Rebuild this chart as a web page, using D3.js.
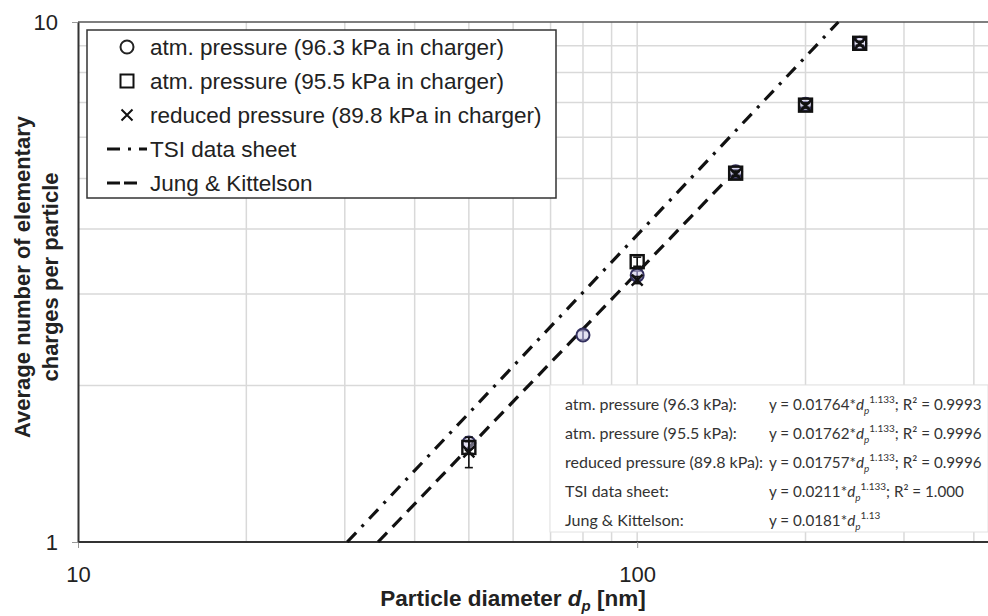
<!DOCTYPE html>
<html>
<head>
<meta charset="utf-8">
<script src="https://cdn.jsdelivr.net/npm/d3@7/dist/d3.min.js"></script>
<style>
  body { margin: 0; background: #fff; }
  svg { display: block; font-family: "Liberation Sans", Arial, sans-serif; }
</style>
</head>
<body>
<div class="chart"></div>
<script>
// measured charge per particle (diameter in nm, mean charges, error bar)
const diam963 = [50, 80, 100, 150, 200, 250];
const charge963 = [1.55, 2.50, 3.26, 5.15, 6.95, 9.10];
const err963 = [0.04, 0.05, 0.06, 0.05, 0.07, 0.08];

const diam955 = [50, 100, 150, 200, 250];
const charge955 = [1.52, 3.46, 5.12, 6.92, 9.10];
const err955 = [0.04, 0.07, 0.05, 0.07, 0.08];

const diam898 = [50, 100, 150, 200, 250];
const charge898 = [1.49, 3.19, 5.10, 6.90, 9.08];
const err898 = [0.10, 0.05, 0.05, 0.07, 0.08];

// end points of the two correlations
const tsiLine = [[30.3, 1], [229, 10]];
const jkLine = [[34.4, 1], [142.6, 4.9]];

const legendLabels = [
  "atm. pressure (96.3 kPa in charger)",
  "atm. pressure (95.5 kPa in charger)",
  "reduced pressure (89.8 kPa in charger)",
  "TSI data sheet",
  "Jung & Kittelson"
];

const eqNames = [
  "atm. pressure (96.3 kPa):",
  "atm. pressure (95.5 kPa):",
  "reduced pressure (89.8 kPa):",
  "TSI data sheet:",
  "Jung & Kittelson:"
];
const eqCoef = ["0.01764", "0.01762", "0.01757", "0.0211", "0.0181"];
const eqExp = ["1.133", "1.133", "1.133", "1.133", "1.13"];
const eqR2 = ["0.9993", "0.9996", "0.9996", "1.000", null];

const xTicks = [10, 100];
const yTicks = [1, 10];
const xGrid = [20, 30, 40, 50, 60, 70, 80, 90, 100, 200, 300, 400];
const yGrid = [2, 3, 4, 5, 6, 7, 8, 9];

const width = 988, height = 616;
const margin = {top: 22, right: 0, bottom: 74, left: 78};

const svg = d3.select('.chart').append('svg')
  .attr('width', width).attr('height', height);

const x = d3.scaleLog().domain([10, 424]).range([margin.left, width - margin.right]);
const y = d3.scaleLog().domain([1, 10]).range([height - margin.bottom, margin.top]);

// grid
svg.append('g').selectAll('line').data(xGrid).join('line')
  .attr('x1', d => x(d)).attr('x2', d => x(d))
  .attr('y1', y(1)).attr('y2', y(10))
  .attr('stroke', '#d9d9d9').attr('stroke-width', 1.5);
svg.append('g').selectAll('line').data(yGrid).join('line')
  .attr('x1', x(10)).attr('x2', width)
  .attr('y1', d => y(d)).attr('y2', d => y(d))
  .attr('stroke', '#d9d9d9').attr('stroke-width', 1.5);

// top frame line
svg.append('line')
  .attr('x1', x(10)).attr('x2', width)
  .attr('y1', y(10)).attr('y2', y(10))
  .attr('stroke', '#555').attr('stroke-width', 1.5);

// axes
const xAxis = svg.append('g')
  .attr('transform', `translate(0,${y(1)})`)
  .call(d3.axisBottom(x).tickValues(xTicks).tickFormat(d3.format('d'))
    .tickSize(6).tickSizeOuter(0).tickPadding(18));
const yAxis = svg.append('g')
  .attr('transform', `translate(${x(10)},0)`)
  .call(d3.axisLeft(y).tickValues(yTicks).tickFormat(d3.format('d'))
    .tickSize(6).tickSizeOuter(0).tickPadding(14));
[xAxis, yAxis].forEach(a => {
  a.select('.domain').attr('stroke', '#333').attr('stroke-width', 2);
  a.selectAll('.tick line').attr('stroke', '#999');
  a.selectAll('.tick text').attr('font-size', 22).attr('fill', '#222')
    .attr('font-family', '"Liberation Sans", Arial, sans-serif');
});
xAxis.select('.domain').attr('d', `M${x(10)},0H${width}`);

// equation table (drawn under the data)
const eqBox = svg.append('g');
eqBox.append('rect')
  .attr('x', 550).attr('y', 385).attr('width', width - 550).attr('height', 147)
  .attr('fill', '#fff').attr('stroke', '#e2e2e2');
const eqRows = eqBox.selectAll('g.row').data(eqNames).join('g')
  .attr('class', 'row')
  .attr('transform', (d, i) => `translate(0,${410 + i * 29})`)
  .attr('font-family', 'Lato, "Open Sans", sans-serif')
  .attr('fill', '#333');
eqRows.append('text').attr('x', 565).attr('font-size', 16).text(d => d);
eqRows.append('text').attr('x', 769).attr('font-size', 15.2).each(function(d, i) {
  const t = d3.select(this);
  t.append('tspan').text(`y = ${eqCoef[i]}*`);
  t.append('tspan').attr('font-style', 'italic').text('d');
  t.append('tspan').attr('font-style', 'italic').attr('font-size', 10).attr('dy', 4).text('p');
  t.append('tspan').attr('font-size', 10).attr('dy', -11).text(eqExp[i]);
  if (eqR2[i]) {
    t.append('tspan').attr('dy', 7).text(`; R² = ${eqR2[i]}`);
  }
});

// correlation lines
const line = d3.line().x(d => x(d[0])).y(d => y(d[1]));
svg.append('path').datum(tsiLine).attr('d', line)
  .attr('fill', 'none').attr('stroke', '#111').attr('stroke-width', 3.2)
  .attr('stroke-dasharray', '13,8,3,8');
svg.append('path').datum(jkLine).attr('d', line)
  .attr('fill', 'none').attr('stroke', '#111').attr('stroke-width', 3.2)
  .attr('stroke-dasharray', '13,8');

// markers
const circleMark = (g) => g.append('circle').attr('r', 6.5)
  .attr('fill', 'rgba(200,196,230,0.5)').attr('stroke', '#33305e').attr('stroke-width', 2);
const squareMark = (g) => g.append('rect').attr('x', -6.5).attr('y', -6.5)
  .attr('width', 13).attr('height', 13)
  .attr('fill', 'none').attr('stroke', '#111').attr('stroke-width', 2.4);
const crossMark = (g) => g.append('path').attr('d', 'M-5.5,-5.5L5.5,5.5M-5.5,5.5L5.5,-5.5')
  .attr('fill', 'none').attr('stroke', '#111').attr('stroke-width', 2.4);

function drawSeries(diam, charge, err, mark, color) {
  const pts = diam.map((d, i) => ({d, c: charge[i], e: err[i]}));
  const g = svg.append('g');
  const bars = g.selectAll('g.err').data(pts).join('g').attr('class', 'err')
    .attr('stroke', color).attr('stroke-width', 1.6);
  bars.append('line')
    .attr('x1', p => x(p.d)).attr('x2', p => x(p.d))
    .attr('y1', p => y(p.c - p.e)).attr('y2', p => y(p.c + p.e));
  bars.append('line')
    .attr('x1', p => x(p.d) - 4).attr('x2', p => x(p.d) + 4)
    .attr('y1', p => y(p.c - p.e)).attr('y2', p => y(p.c - p.e));
  bars.append('line')
    .attr('x1', p => x(p.d) - 4).attr('x2', p => x(p.d) + 4)
    .attr('y1', p => y(p.c + p.e)).attr('y2', p => y(p.c + p.e));
  g.selectAll('g.pt').data(pts).join('g').attr('class', 'pt')
    .attr('transform', p => `translate(${x(p.d)},${y(p.c)})`)
    .each(function() { mark(d3.select(this)); });
}
drawSeries(diam963, charge963, err963, circleMark, '#33305e');
drawSeries(diam898, charge898, err898, crossMark, '#111');
drawSeries(diam955, charge955, err955, squareMark, '#111');

// legend
const legend = svg.append('g');
legend.append('rect')
  .attr('x', 87).attr('y', 30).attr('width', 469).attr('height', 168)
  .attr('fill', '#fff').attr('stroke', '#333').attr('stroke-width', 1.5);
const lg = legend.selectAll('g.item').data(legendLabels).join('g')
  .attr('class', 'item')
  .attr('transform', (d, i) => `translate(0,${47 + i * 34})`);
lg.append('text').attr('x', 150).attr('dy', '0.36em')
  .attr('font-size', 22.5).attr('fill', '#222').text(d => d);
const legendMarks = [circleMark, squareMark, crossMark];
lg.filter((d, i) => i < 3).append('g').attr('transform', 'translate(127,0)')
  .each(function(d, i) {
    const m = legendMarks[i](d3.select(this));
    m.attr('stroke-width', 2);
    if (i === 0) m.attr('fill', 'none').attr('stroke', '#222');
  });
lg.filter((d, i) => i === 3).append('line')
  .attr('x1', 107).attr('x2', 147).attr('stroke', '#111').attr('stroke-width', 3)
  .attr('stroke-dasharray', '13,8,3,8');
lg.filter((d, i) => i === 4).append('line')
  .attr('x1', 107).attr('x2', 140).attr('stroke', '#111').attr('stroke-width', 3)
  .attr('stroke-dasharray', '13,4');

// axis titles
const yTitle = svg.append('text')
  .attr('transform', 'translate(30,277) rotate(-90)')
  .attr('text-anchor', 'middle').attr('font-size', 22).attr('font-weight', 'bold').attr('fill', '#222');
yTitle.append('tspan').attr('x', 0).attr('dy', 0).text('Average number of elementary');
yTitle.append('tspan').attr('x', 0).attr('dy', 28).text('charges per particle');

const xTitle = svg.append('text')
  .attr('x', 513).attr('y', 606)
  .attr('text-anchor', 'middle').attr('font-size', 22.5).attr('font-weight', 'bold').attr('fill', '#222');
xTitle.append('tspan').text('Particle diameter ');
xTitle.append('tspan').attr('font-style', 'italic').text('d');
xTitle.append('tspan').attr('font-style', 'italic').attr('font-size', 15).attr('dy', 5).text('p');
xTitle.append('tspan').attr('dy', -5).text(' [nm]');
</script>
</body>
</html>
